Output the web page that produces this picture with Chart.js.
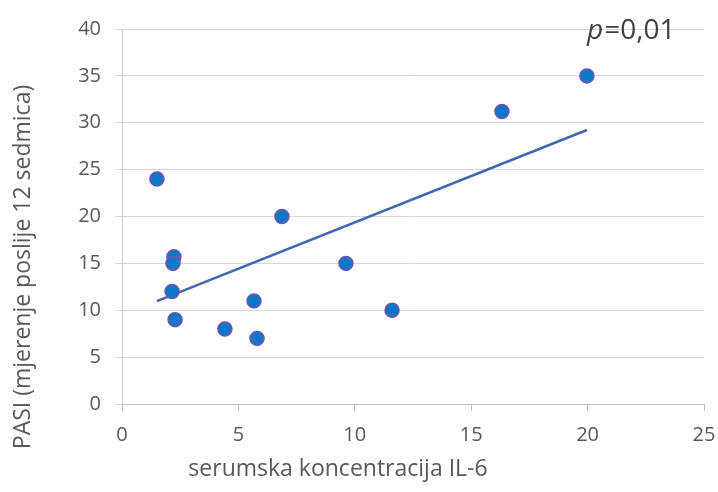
<!DOCTYPE html>
<html>
<head>
<meta charset="utf-8">
<script src="https://cdn.jsdelivr.net/npm/chart.js@4"></script>
<style>
html,body{margin:0;padding:0;background:#fff;}
canvas{display:block;}
</style>
</head>
<body>
<canvas id="c" width="718" height="492"></canvas>
<script>
// Data
const il6Values  = [1.5, 2.23, 2.19, 2.15, 2.28, 4.42, 5.67, 5.8, 6.87, 9.62, 11.6, 16.32, 19.97];
const pasiValues = [24, 15.7, 15, 12, 9, 8, 11, 7, 20, 15, 10, 31.2, 35];
const xTicks = [0, 5, 10, 15, 20, 25];
const yTicks = [0, 5, 10, 15, 20, 25, 30, 35, 40];
const xTitle = 'serumska koncentracija IL-6';
const yTitle = 'PASI (mjerenje poslije 12 sedmica)';
const pLabel = 'p';
const pValueText = '=0,01';

const points = il6Values.map((x, i) => ({x: x, y: pasiValues[i]}));

// least-squares trendline from the data
const n = il6Values.length;
const mx = il6Values.reduce((a, b) => a + b, 0) / n;
const my = pasiValues.reduce((a, b) => a + b, 0) / n;
let sxy = 0, sxx = 0;
for (let i = 0; i < n; i++) { sxy += (il6Values[i] - mx) * (pasiValues[i] - my); sxx += (il6Values[i] - mx) ** 2; }
const slope = sxy / sxx, intercept = my - slope * mx;
const xMin = Math.min(...il6Values), xMax = Math.max(...il6Values);
const trend = [{x: xMin, y: intercept + slope * xMin}, {x: xMax, y: intercept + slope * xMax}];

const FONT = '"Open Sans"';
const textColor = '#595959';

const titlePlugin = {
  id: 'titles',
  afterDraw(chart) {
    const ctx = chart.ctx;
    ctx.save();
    ctx.fillStyle = textColor;
    ctx.font = '23px ' + FONT;
    ctx.textAlign = 'center';
    ctx.textBaseline = 'middle';
    ctx.fillText(xTitle, 338, 469);
    ctx.translate(23, 267);
    ctx.rotate(-Math.PI / 2);
    ctx.fillText(yTitle, 0, 0);
    ctx.restore();
    // p-value annotation
    ctx.save();
    ctx.fillStyle = '#404040';
    ctx.textBaseline = 'alphabetic';
    ctx.textAlign = 'left';
    ctx.font = 'italic 28px ' + FONT;
    const x0 = 587, y0 = 39;
    ctx.fillText(pLabel, x0, y0);
    const w = ctx.measureText(pLabel).width;
    ctx.font = '28px ' + FONT;
    ctx.fillText(pValueText, x0 + w + 1, y0);
    ctx.restore();
  }
};

new Chart(document.getElementById('c'), {
  type: 'scatter',
  data: {
    datasets: [
      {
        type: 'line',
        data: trend,
        borderColor: '#4466b0',
        borderWidth: 2.5,
        pointRadius: 0,
        fill: false,
        order: 2
      },
      {
        data: points,
        backgroundColor: '#0a78c6',
        borderColor: '#7452b0',
        borderWidth: 1.5,
        pointRadius: 7,
        pointHoverRadius: 7,
        order: 1
      }
    ]
  },
  options: {
    responsive: false,
    devicePixelRatio: 1,
    animation: false,
    layout: {padding: {left: 0, right: 14, top: 29, bottom: 0}},
    plugins: {legend: {display: false}, tooltip: {enabled: false}},
    scales: {
      x: {
        type: 'linear',
        min: 0, max: 25,
        afterBuildTicks(scale) { scale.ticks = xTicks.map(v => ({value: v})); },
        afterFit(scale) { scale.height = 88; scale.paddingRight = 0; scale.paddingLeft = 0; },
        grid: {display: true, drawOnChartArea: false, drawTicks: true, tickLength: 7, color: '#bfbfbf'},
        border: {display: true, color: '#bfbfbf', width: 1},
        ticks: {color: textColor, font: {family: 'Open Sans', size: 20}, padding: 12, maxRotation: 0}
      },
      y: {
        type: 'linear',
        min: 0, max: 40,
        afterBuildTicks(scale) { scale.ticks = yTicks.map(v => ({value: v})); },
        afterFit(scale) { scale.width = 122; scale.paddingTop = 0; scale.paddingBottom = 0; },
        grid: {display: true, drawOnChartArea: true, drawTicks: true, tickLength: 7, color: '#d9d9d9'},
        border: {display: true, color: '#d0d0d0', width: 1},
        ticks: {color: textColor, font: {family: 'Open Sans', size: 20}, padding: 14}
      }
    }
  },
  plugins: [titlePlugin]
});
</script>
</body>
</html>
